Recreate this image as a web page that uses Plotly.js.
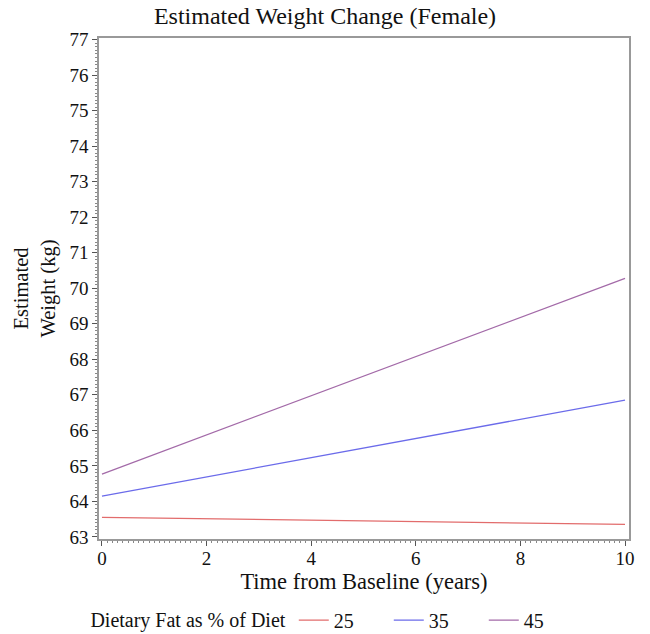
<!DOCTYPE html>
<html>
<head>
<meta charset="utf-8">
<script src="https://cdn.plot.ly/plotly-3.0.1.min.js"></script>
<style>html,body{margin:0;padding:0;background:#fff;}#chart{width:650px;height:634px;}</style>
</head>
<body>
<div id="chart"></div>
<script>
const years = [0, 10];
const fat25 = [63.55, 63.35];
const fat35 = [64.15, 66.85];
const fat45 = [64.77, 70.28];
const seriesNames = ['25', '35', '45'];
const seriesColors = ['#e26c6c', '#6b6bea', '#a36aa8'];

const serif = 'Liberation Serif, Times New Roman, serif';
const traces = [fat25, fat35, fat45].map((vals, i) => ({
  x: years, y: vals, type: 'scatter', mode: 'lines', name: seriesNames[i],
  line: {color: seriesColors[i], width: 1.3}
}));

const layout = {
  width: 650, height: 634,
  margin: {l: 99, r: 21, t: 38, b: 95, autoexpand: false},
  paper_bgcolor: '#fff', plot_bgcolor: '#fff',
  title: {text: 'Estimated Weight Change (Female)', font: {family: serif, size: 24, color: '#111'}, x: 0.5, xanchor: 'center', y: 0.988, yanchor: 'top'},
  xaxis: {
    range: [-0.057, 10.076], tickvals: [0, 2, 4, 6, 8, 10], ticks: 'outside', ticklen: 5, tickcolor: '#555',
    showgrid: false, zeroline: false, showline: true, mirror: true, linecolor: '#999', linewidth: 1.8,
    tickfont: {family: serif, size: 19, color: '#111'}, ticklabelstandoff: -4,
    minor: {dtick: 0.1, ticks: 'outside', ticklen: 2.5, tickcolor: '#888', showgrid: false},
    title: {text: 'Time from Baseline (years)', font: {family: serif, size: 22.5, color: '#111'}, standoff: 0}
  },
  yaxis: {
    range: [62.94, 77.05], dtick: 1, ticks: 'outside', ticklen: 5, tickcolor: '#555',
    showgrid: false, zeroline: false, showline: true, mirror: true, linecolor: '#999', linewidth: 1.8,
    tickfont: {family: serif, size: 19, color: '#111'},
    minor: {dtick: 0.1, ticks: 'outside', ticklen: 2.5, tickcolor: '#888', showgrid: false},
    title: {text: 'Estimated<br>Weight (kg)', font: {family: serif, size: 20.5, color: '#111'}, standoff: 8}
  },
  showlegend: true,
  legend: {
    orientation: 'h', x: -0.02, xanchor: 'left', y: -0.162, yanchor: 'middle',
    font: {family: serif, size: 20, color: '#111'},
    title: {text: 'Dietary Fat as % of Diet', side: 'left', font: {family: serif, size: 20, color: '#111'}},
    entrywidth: 50, tracegroupgap: 0
  }
};

Plotly.newPlot('chart', traces, layout, {displayModeBar: false, staticPlot: true});
</script>
</body>
</html>
